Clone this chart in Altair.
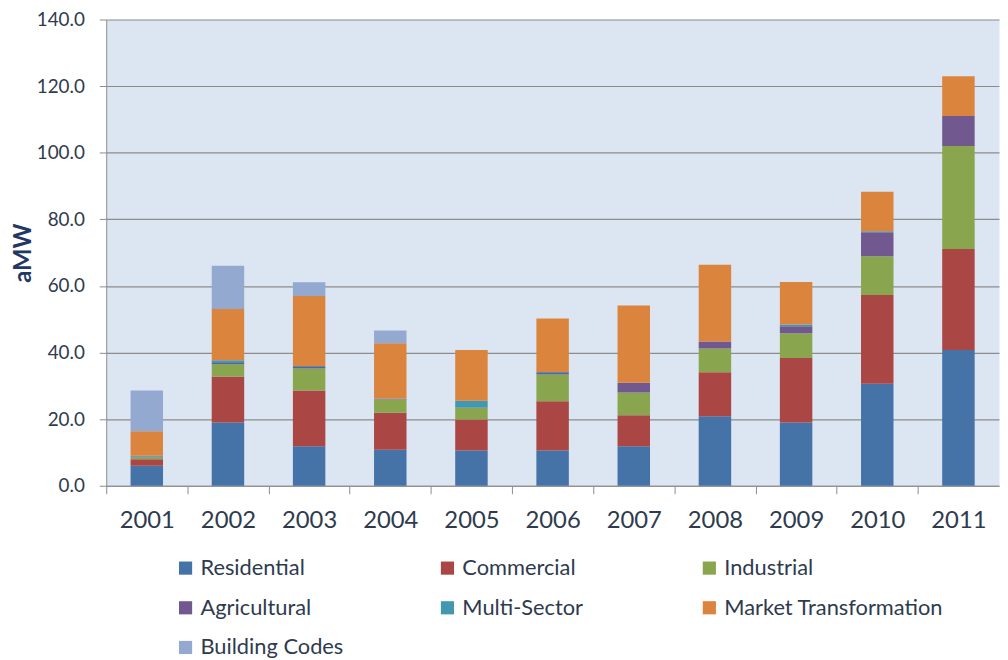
import altair as alt
import pandas as pd

years = ["2001", "2002", "2003", "2004", "2005", "2006", "2007", "2008", "2009", "2010", "2011"]
residential = [6.0, 19.0, 11.9, 10.8, 10.6, 10.6, 11.9, 20.9, 19.0, 30.6, 40.8]
commercial = [2.0, 13.8, 16.7, 11.1, 9.3, 14.8, 9.3, 13.2, 19.4, 26.7, 30.3]
industrial = [0.6, 3.7, 6.6, 3.9, 3.5, 8.0, 6.8, 7.1, 7.4, 11.6, 30.9]
agricultural = [0.2, 0.4, 0.5, 0.2, 0.0, 0.5, 2.9, 2.1, 2.1, 7.2, 9.0]
multi_sector = [0.2, 0.8, 0.3, 0.1, 2.1, 0.3, 0.0, 0.0, 0.5, 0.3, 0.0]
market_transformation = [7.4, 15.4, 21.0, 16.7, 15.3, 16.0, 23.2, 23.1, 12.8, 11.9, 12.0]
building_codes = [12.2, 13.0, 4.1, 3.8, 0.0, 0.0, 0.0, 0.0, 0.0, 0.0, 0.0]

series_names = ["Residential", "Commercial", "Industrial", "Agricultural",
                "Multi-Sector", "Market Transformation", "Building Codes"]
series_colors = ["#4572A7", "#AA4643", "#89A54E", "#71588F", "#4198AF", "#DB843D", "#93A9CF"]
series_values = [residential, commercial, industrial, agricultural,
                 multi_sector, market_transformation, building_codes]
y_ticks = [0, 20, 40, 60, 80, 100, 120, 140]

rows = []
for k, (name, vals) in enumerate(zip(series_names, series_values)):
    for yr, v in zip(years, vals):
        rows.append({"Year": yr, "Sector": name, "aMW": v, "order": k})
df = pd.DataFrame(rows)

W = 900
H = 470
step = W / len(years)
text_color = "#2E3B4E"
grid_color = "#8C8C8C"

chart = alt.Chart(df).mark_bar(strokeWidth=0).encode(
    x=alt.X(
        "Year:N", sort=years, title=None,
        scale=alt.Scale(paddingInner=0.6, paddingOuter=0.3),
        axis=alt.Axis(labelAngle=0, labelFontSize=24, labelColor=text_color,
                      labelPadding=15, tickSize=8, tickColor=grid_color,
                      domainColor=grid_color, tickOffset=-step / 2,
                      labelOffset=step / 2, grid=False),
    ),
    y=alt.Y(
        "aMW:Q", stack="zero", scale=alt.Scale(domain=[0, 140]),
        axis=alt.Axis(values=y_ticks, format=".1f", title="aMW",
                      labelFontSize=19, labelColor=text_color, labelPadding=15,
                      tickSize=7, tickColor=grid_color, domainColor=grid_color,
                      gridColor=grid_color, gridWidth=1.2,
                      titleFontSize=24, titleFontWeight="bold", titleColor="#1F3864",
                      titleAngle=-90, titleX=-83, titleY=H / 2,
                      titleAlign="center", titleBaseline="middle"),
    ),
    color=alt.Color(
        "Sector:N", sort=series_names,
        scale=alt.Scale(domain=series_names, range=series_colors),
        legend=alt.Legend(title=None, orient="none", legendX=69, legendY=542,
                          direction="horizontal", columns=3, gridAlign="all",
                          columnPadding=17, rowPadding=18,
                          symbolType="square", symbolSize=176, symbolStrokeWidth=0,
                          symbolOpacity=1, labelFontSize=22, labelColor=text_color,
                          labelLimit=400, labelOffset=4),
    ),
    order=alt.Order("order:Q", sort="ascending"),
).properties(
    width=W, height=H,
    autosize=alt.AutoSizeParams(type="none"),
    padding={"left": 99, "top": 9, "right": 1, "bottom": 172},
).configure(
    font="Lato", background="white",
).configure_view(
    fill="#DCE6F2", stroke="transparent",
)

chart.save("out.html", embed_options={"renderer": "svg", "actions": False})
